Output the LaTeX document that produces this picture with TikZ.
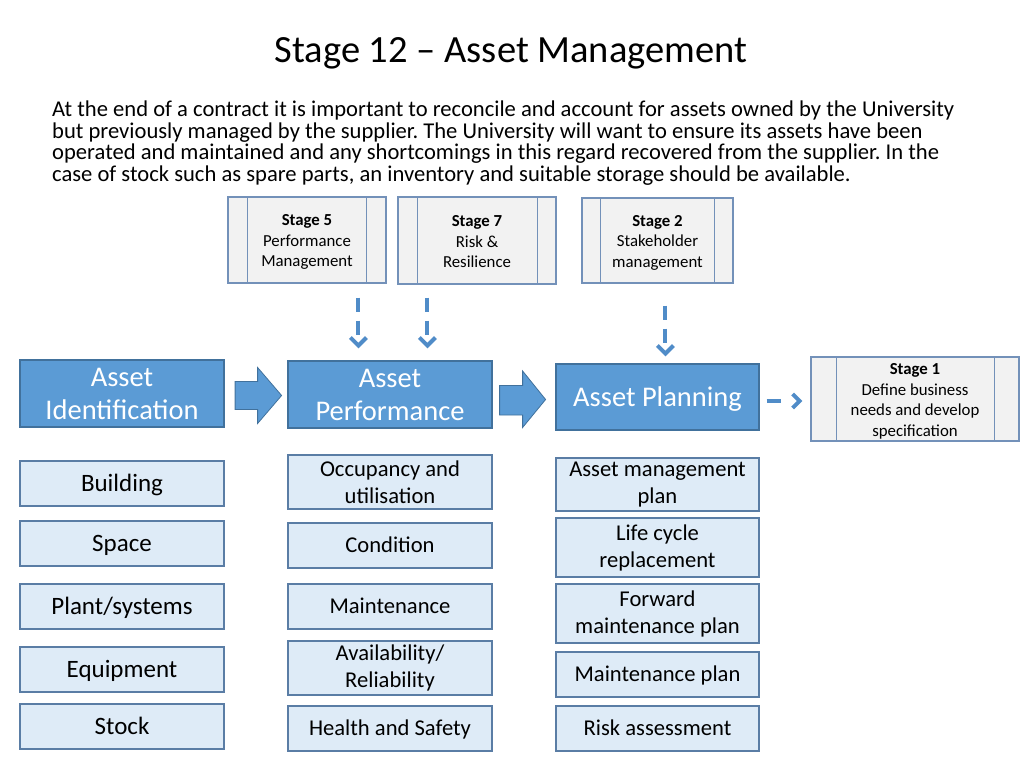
\documentclass[tikz,border=0pt]{standalone}
\usepackage{fontspec}
\setmainfont{Carlito}
\usetikzlibrary{arrows.meta,calc}
\definecolor{bluefill}{RGB}{91,155,213}
\definecolor{blueborder}{RGB}{65,113,156}
\definecolor{lightfill}{RGB}{222,235,247}
\definecolor{lightborder}{RGB}{90,125,165}
\definecolor{stagefill}{RGB}{242,242,242}
\definecolor{stageborder}{RGB}{115,145,185}
\definecolor{arrowblue}{RGB}{80,140,200}
\newcommand{\fs}[2]{\fontsize{#1}{#2}\selectfont}
\frenchspacing
\begin{document}
\begin{tikzpicture}[x=1pt,y=-1pt,
  mainbase/.style={draw=blueborder,line width=1.2pt,fill=bluefill,text=white,inner sep=0pt,font=\fs{28.5}{33}},
  mainbox/.style={mainbase,align=center},
  mainone/.style={mainbase,text height=18.2pt,text depth=0pt},
  subbase/.style={draw=lightborder,line width=1.2pt,fill=lightfill,text=black,inner sep=0pt,font=\fs{22.6}{27}},
  subbox/.style={subbase,align=center,execute at begin node={\rule{0pt}{21.5pt}}},
  subone/.style={subbase,text height=14.5pt,text depth=0pt},
  leftbox/.style={subbase,font=\fs{25}{29},text height=16pt,text depth=0pt},
  stagebox/.style={draw=stageborder,line width=1.2pt,fill=stagefill,inner sep=0pt},
  stagetext/.style={text=black,align=center,inner sep=0pt,font=\fs{16.8}{20.5}},
  innerline/.style={draw=stageborder,line width=1.2pt},
  blockarrow/.style={draw=blueborder,line width=0.8pt,fill=bluefill},
  dasharrow/.style={draw=arrowblue,line width=4pt,dash pattern=on 14pt off 9pt,-{Straight Barb[length=8pt,width=16pt,line width=4pt]}},
]
\useasboundingbox (0,0) rectangle (1024,768);

% title and text
\node[font=\fs{38.5}{42}] (title) at (511,53) {Stage 12 -- Asset Management};
\node[anchor=north west,align=left,font=\fs{22.6}{21.8},inner sep=0pt] (para) at (52,100.5)
{At the end of a contract it is important to reconcile and account for assets owned by the University\\
but previously managed by the supplier. The University will want to ensure its assets have been\\
operated and maintained and any shortcomings in this regard recovered from the supplier. In the\\
case of stock such as spare parts, an inventory and suitable storage should be available.};

% stage boxes
\node[stagebox,minimum width=158,minimum height=86] (s5) at (307,240) {};
\node[stagetext] (s5t) at ($(s5.center)+(0,2)$) {\textbf{Stage 5}\\Performance\\Management};
\draw[innerline] ($(s5.north west)+(20,0)$) -- ($(s5.south west)+(20,0)$);
\draw[innerline] ($(s5.north east)+(-20,0)$) -- ($(s5.south east)+(-20,0)$);

\node[stagebox,minimum width=158,minimum height=87] (s7) at (477,240.5) {};
\node[stagetext] (s7t) at ($(s7.center)+(0,1.5)$) {\textbf{Stage 7}\\Risk \&\\Resilience};
\draw[innerline] ($(s7.north west)+(20,0)$) -- ($(s7.south west)+(20,0)$);
\draw[innerline] ($(s7.north east)+(-19,0)$) -- ($(s7.south east)+(-19,0)$);

\node[stagebox,minimum width=151,minimum height=85] (s2) at (657.5,240.5) {};
\node[stagetext] (s2t) at ($(s2.center)+(0,2)$) {\textbf{Stage 2}\\Stakeholder\\management};
\draw[innerline] ($(s2.north west)+(19,0)$) -- ($(s2.south west)+(19,0)$);
\draw[innerline] ($(s2.north east)+(-19,0)$) -- ($(s2.south east)+(-19,0)$);

\node[stagebox,minimum width=208,minimum height=84] (s1) at (915,399) {};
\node[stagetext] (s1t) at ($(s1.center)+(0,2.5)$) {\textbf{Stage 1}\\Define business\\needs and develop\\specification};
\draw[innerline] ($(s1.north west)+(26,0)$) -- ($(s1.south west)+(26,0)$);
\draw[innerline] ($(s1.north east)+(-25,0)$) -- ($(s1.south east)+(-25,0)$);

% main boxes
\node[mainbox,minimum width=204,minimum height=67] (ident) at (122,393.5) {Asset\\Identification};
\node[mainbox,minimum width=204,minimum height=67] (perf) at (390,394.5) {Asset\\Performance};
\node[mainone,minimum width=203,minimum height=66] (plan) at (657.5,397) {Asset Planning};

% block arrows
\draw[blockarrow] ($(ident.east)+(10.5,-12)$) -- ++(22.5,0) -- ++(0,-14) -- ++(24,28) -- ++(-24,28) -- ++(0,-14) -- ++(-22.5,0) -- cycle;
\draw[blockarrow] ($(perf.east)+(7,-9)$) -- ++(23,0) -- ++(0,-14.5) -- ++(23,28.5) -- ++(-23,28) -- ++(0,-12.5) -- ++(-23,0) -- cycle;

% dashed arrows
\draw[dasharrow] ($(s5.south west)+(131,14)$) -- ($(perf.north west)+(71,-12)$);
\draw[dasharrow] ($(s7.south west)+(30,13)$) -- ($(perf.north west)+(140,-12)$);
\draw[dasharrow] ($(s2.south west)+(84,22)$) -- ($(plan.north west)+(110,-7)$);
\draw[arrowblue,line width=4pt,dash pattern=on 14pt off 30pt,-{Straight Barb[length=7pt,width=14pt,line width=4pt]}] ($(plan.east)+(7,4)$) -- ($(s1.west)+(-8,2)$);

% column 1
\node[leftbox,minimum width=204,minimum height=45] (b1) at (122,483.5) {Building};
\node[leftbox,minimum width=204,minimum height=45] (b2) at (122,543.5) {Space};
\node[leftbox,minimum width=204,minimum height=45] (b3) at (122,606.5) {Plant/systems};
\node[leftbox,minimum width=204,minimum height=45] (b4) at (122,669.5) {Equipment};
\node[leftbox,minimum width=204,minimum height=45] (b5) at (122,726.5) {Stock};

% column 2
\node[subbox,minimum width=204,minimum height=54] (p1) at (390,482) {Occupancy and\\utilisation};
\node[subone,minimum width=204,minimum height=45] (p2) at (390,545.5) {Condition};
\node[subone,minimum width=204,minimum height=45] (p3) at (390,606.5) {Maintenance};
\node[subbox,minimum width=204,minimum height=54] (p4) at (390,668) {Availability/\\Reliability};
\node[subone,minimum width=204,minimum height=45] (p5) at (390,728.5) {Health and Safety};

% column 3
\node[subbox,minimum width=203,minimum height=53] (l1) at (657.5,484.5) {Asset management\\plan};
\node[subbox,minimum width=203,minimum height=59] (l2) at (657.5,547.5) {Life cycle\\replacement};
\node[subbox,minimum width=203,minimum height=59] (l3) at (657.5,613.5) {Forward\\maintenance plan};
\node[subone,minimum width=203,minimum height=45] (l4) at (657.5,674.5) {Maintenance plan};
\node[subone,minimum width=203,minimum height=45] (l5) at (657.5,728.5) {Risk assessment};
\end{tikzpicture}
\end{document}
